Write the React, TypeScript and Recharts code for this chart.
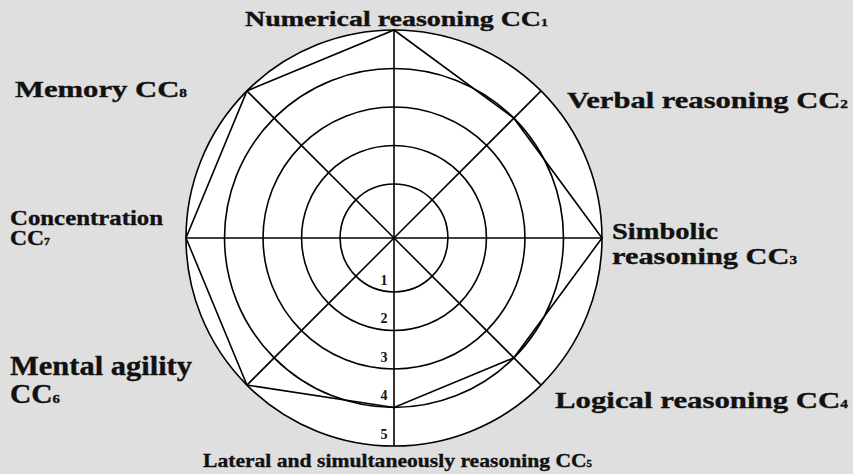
import { RadarChart, PolarGrid, PolarAngleAxis, PolarRadiusAxis, Radar } from 'recharts';

const SKILLS = [
  'Numerical reasoning',
  'Verbal reasoning',
  'Simbolic reasoning',
  'Logical reasoning',
  'Lateral and simultaneously reasoning',
  'Mental agility',
  'Concentration',
  'Memory',
];
const CODES = ['1', '2', '3', '4', '5', '6', '7', '8'];
const SCORES = [5, 4, 5, 4, 4, 5, 5, 5];
const RINGS = [1, 2, 3, 4, 5];

const W = 853;
const H = 474;
const CX = 394;
const CY = 238;
const R = 208;
const FONT = "'Liberation Serif', 'Times New Roman', Times, serif";

// where each axis name sits: first baseline, font size, line height, stretched widths, words on line 1
const LABELS = [
  { x: 245, y: 26, size: 20, lh: 0, widths: [303], br: 0 },
  { x: 567, y: 108, size: 23, lh: 0, widths: [281], br: 0 },
  { x: 612, y: 239, size: 24, lh: 25, widths: [106, 185], br: 1 },
  { x: 555, y: 408, size: 23, lh: 0, widths: [293], br: 0 },
  { x: 203, y: 467, size: 19, lh: 0, widths: [389], br: 0 },
  { x: 10, y: 375, size: 27, lh: 28, widths: [182, 50], br: 2 },
  { x: 10, y: 225, size: 20, lh: 20, widths: [153, 40], br: 1 },
  { x: 15, y: 97, size: 23, lh: 0, widths: [172], br: 0 },
];

const data = SKILLS.map((skill, i) => ({ skill, score: SCORES[i] }));

function AngleLabel(props: any) {
  const i = SKILLS.indexOf(props.payload.value);
  const l = LABELS[i];
  const words = `${SKILLS[i]} CC`.split(' ');
  const lines = l.br ? [words.slice(0, l.br).join(' '), words.slice(l.br).join(' ')] : [words.join(' ')];
  return (
    <g>
      {lines.map((line, k) => (
        <text
          key={k}
          x={l.x}
          y={l.y + k * l.lh}
          style={{ fontFamily: FONT, fontWeight: 700, fontSize: l.size }}
          fill="#111"
          stroke="#111"
          strokeWidth={0.35}
          textLength={l.widths[k]}
          lengthAdjust="spacingAndGlyphs"
        >
          {line}
          {k === lines.length - 1 && <tspan style={{ fontSize: l.size * 0.5 }}>{CODES[i]}</tspan>}
        </text>
      ))}
    </g>
  );
}

function RingLabel(props: any) {
  return (
    <text
      x={props.x - 10}
      y={props.y - 7}
      textAnchor="middle"
      style={{ fontFamily: FONT, fontWeight: 700, fontSize: 14 }}
      fill="#111"
    >
      {props.payload.value}
    </text>
  );
}

export default function App() {
  return (
    <div style={{ position: 'absolute', left: 0, top: 0, width: W, height: H, background: '#dfdfdf' }}>
      <div
        style={{
          position: 'absolute',
          left: CX - R,
          top: CY - R,
          width: R * 2,
          height: R * 2,
          borderRadius: '50%',
          background: '#fff',
        }}
      />
      <div style={{ position: 'absolute', left: 0, top: 0 }}>
        <RadarChart width={W} height={H} data={data} cx={CX} cy={CY} outerRadius={R} margin={{ top: 0, right: 0, bottom: 0, left: 0 }}>
          <PolarGrid gridType="circle" stroke="#000" strokeWidth={1.6} />
          <PolarAngleAxis dataKey="skill" axisLine={false} tickLine={false} tick={(p: any) => <AngleLabel {...p} />} />
          <PolarRadiusAxis
            type="number"
            angle={270}
            domain={[-0.4, 5]}
            ticks={RINGS}
            axisLine={false}
            tickLine={false}
            tick={(p: any) => <RingLabel {...p} />}
          />
          <Radar
            dataKey="score"
            stroke="#000"
            strokeWidth={1.6}
            fill="none"
            fillOpacity={0}
            dot={false}
            isAnimationActive={false}
          />
        </RadarChart>
      </div>
    </div>
  );
}
